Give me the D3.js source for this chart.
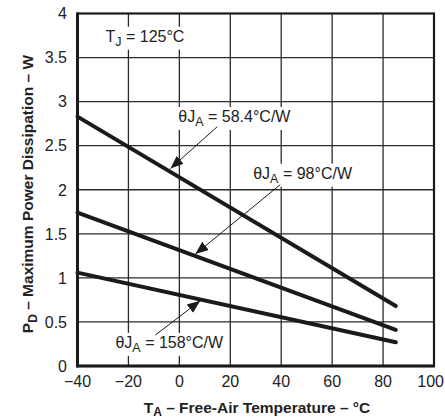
<!DOCTYPE html>
<html><head><meta charset="utf-8">
<script src="https://cdn.jsdelivr.net/npm/d3@7"></script>
<style>body{margin:0;background:#fff}svg{display:block}text{font-family:"Liberation Sans",Arial,Helvetica,sans-serif}</style>
</head><body><svg id="c" width="445" height="419"></svg>
<script>
const xTicks = [-40,-20,0,20,40,60,80,100];
const yTicks = [0,0.5,1,1.5,2,2.5,3,3.5,4];
const yTickLabels = ["0","0.5","1","1.5","2","2.5","3","3.5","4"];
const xTickLabels = ["\u221240","\u221220","0","20","40","60","80","100"];
const temps = [-40, 85];
const pd584 = [2.83, 0.68];
const pd98 = [1.74, 0.41];
const pd158 = [1.06, 0.27];
const seriesNames = ["58.4", "98", "158"];
// annotations in data units
const annoLabels = [
  {name:"58.4", text:" = 58.4\u00b0C/W", x:-0.4, y:2.77, from:[14.9,2.716], to:[-3.5,2.24]},
  {name:"98", text:" = 98\u00b0C/W", x:29.0, y:2.125, from:[39.6,2.057], to:[6.3,1.27]},
  {name:"158", text:" = 158\u00b0C/W", x:-25.1, y:0.205, from:[-9.4,0.352], to:[8.2,0.74]}
];
const tjLabel = {x:-29.0, y:3.68};

const svg = d3.select("#c");
const x = d3.scaleLinear().domain([-40,100]).range([77.5,434]);
const y = d3.scaleLinear().domain([0,4]).range([366,13.5]);
const FS = 16;

// grid
const g = svg.append("g");
g.selectAll(".vx").data(xTicks.slice(1,-1)).enter().append("line")
  .attr("x1",d=>x(d)).attr("x2",d=>x(d)).attr("y1",y(0)).attr("y2",y(4))
  .attr("stroke","#2a2a2a").attr("stroke-width",1.3);
g.selectAll(".hy").data(yTicks.slice(1,-1)).enter().append("line")
  .attr("y1",d=>y(d)).attr("y2",d=>y(d)).attr("x1",x(-40)).attr("x2",x(100))
  .attr("stroke","#2a2a2a").attr("stroke-width",1.3);

// data lines
const line = d3.line().x(d=>x(d[0])).y(d=>y(d[1]));
[pd584,pd98,pd158].forEach(vals=>{
  svg.append("path").datum(temps.map((t,i)=>[t,vals[i]]))
    .attr("d",line).attr("fill","none").attr("stroke","#1a1a1a")
    .attr("stroke-width",4).attr("stroke-linecap","round");
});

// frame
svg.append("rect").attr("x",x(-40)).attr("y",y(4)).attr("width",x(100)-x(-40)).attr("height",y(0)-y(4))
  .attr("fill","none").attr("stroke","#1a1a1a").attr("stroke-width",2.2);
svg.append("line").attr("x1",x(-40)).attr("x2",x(-40)).attr("y1",y(4)-1).attr("y2",y(0)+1.5)
  .attr("stroke","#1a1a1a").attr("stroke-width",3);
svg.append("line").attr("x1",x(-40)).attr("x2",x(100)+1).attr("y1",y(0)).attr("y2",y(0))
  .attr("stroke","#1a1a1a").attr("stroke-width",3);

// tick labels
svg.selectAll(".yl").data(yTicks).enter().append("text")
  .attr("x",67).attr("y",d=>y(d)+5.8).attr("text-anchor","end")
  .attr("font-size",FS).attr("fill","#222").text((d,i)=>yTickLabels[i]);
svg.selectAll(".xl").data(xTicks).enter().append("text")
  .attr("x",(d,i)=> i===xTicks.length-1 ? 444 : x(d)).attr("y",387)
  .attr("text-anchor",(d,i)=> i===xTicks.length-1 ? "end" : "middle")
  .attr("font-size",FS).attr("fill","#222").text((d,i)=>xTickLabels[i]);

// axis titles
const xt = svg.append("text").attr("x",257).attr("y",413).attr("text-anchor","middle")
  .attr("font-size",15.5).attr("font-weight","bold").attr("fill","#222");
xt.append("tspan").text("T");
xt.append("tspan").attr("font-size",12).attr("dy",3).text("A");
xt.append("tspan").attr("dy",-3).text(" \u2013 Free-Air Temperature \u2013 \u00b0C");

const yt = svg.append("text").attr("transform","translate(33,194) rotate(-90)").attr("text-anchor","middle")
  .attr("font-size",15.5).attr("font-weight","bold").attr("fill","#222");
yt.append("tspan").text("P");
yt.append("tspan").attr("font-size",12).attr("dy",4).text("D");
yt.append("tspan").attr("dy",-4).text(" \u2013 Maximum Power Dissipation \u2013 W");

// labels with white background
function label(px, py, parts){
  const grp = svg.append("g");
  const bg = grp.append("rect").attr("fill","#fff");
  const t = grp.append("text").attr("x",px).attr("y",py).attr("font-size",FS).attr("fill","#222");
  parts.forEach(p=>{
    const s = t.append("tspan").text(p.t);
    if(p.sub){ s.attr("font-size",12.5).attr("dy",4); }
    if(p.up){ s.attr("dy",-4); }
  });
  const b = t.node().getBBox();
  bg.attr("x",b.x-2).attr("y",b.y-1).attr("width",b.width+4).attr("height",b.height+2);
}
label(x(tjLabel.x), y(tjLabel.y), [{t:"T"},{t:"J",sub:true},{t:" = 125\u00b0C",up:true}]);

// arrows
const defs = svg.append("defs");
defs.append("marker").attr("id","ah").attr("viewBox","0 0 10 10").attr("refX",10).attr("refY",5)
  .attr("markerWidth",13).attr("markerHeight",13).attr("markerUnits","userSpaceOnUse").attr("orient","auto")
  .append("path").attr("d","M0,1 L10,5 L0,9 Z").attr("fill","#1a1a1a");
annoLabels.forEach(a=>{
  label(x(a.x), y(a.y), [{t:"\u03b8J"},{t:"A",sub:true},{t:a.text,up:true}]);
});
annoLabels.forEach(a=>{
  svg.append("line").attr("x1",x(a.from[0])).attr("y1",y(a.from[1]))
    .attr("x2",x(a.to[0])).attr("y2",y(a.to[1]))
    .attr("stroke","#1a1a1a").attr("stroke-width",1).attr("marker-end","url(#ah)");
});
</script></body></html>
